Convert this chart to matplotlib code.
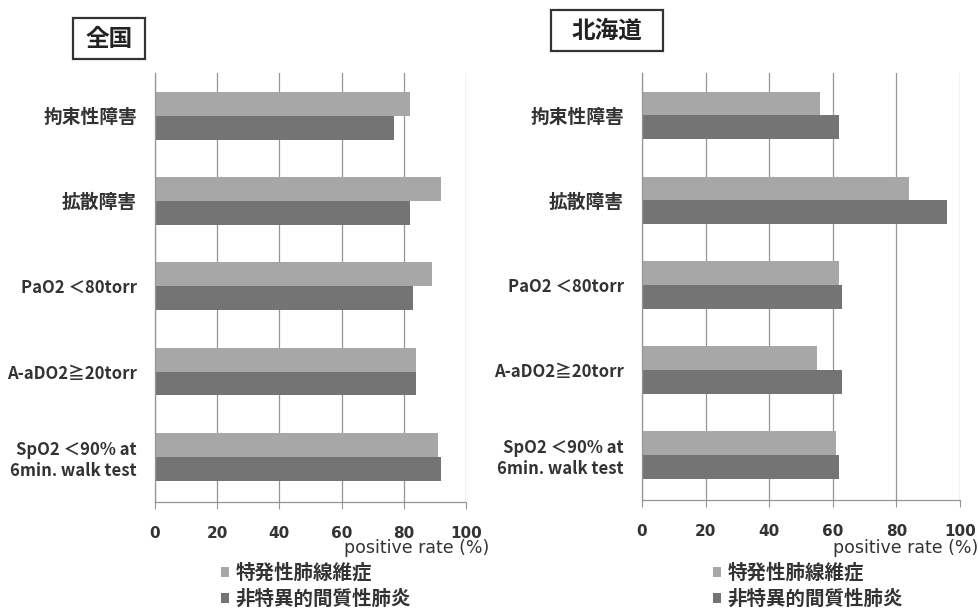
import numpy as np
import matplotlib
matplotlib.use("Agg")
import matplotlib.pyplot as plt
from matplotlib.patches import Rectangle

plt.rcParams['font.family'] = ['Noto Sans CJK JP', 'DejaVu Sans']

# categories (top to bottom)
categories = ["拘束性障害", "拡散障害", "PaO2 ＜80torr", "A-aDO2≧20torr", "SpO2 ＜90% at\n6min. walk test"]
series_names = ["特発性肺線維症", "非特異的間質性肺炎"]

# positive rate (%)
zenkoku_ipf = [82, 92, 89, 84, 91]
zenkoku_nsip = [77, 82, 83, 84, 92]
hokkaido_ipf = [56, 84, 62, 55, 61]
hokkaido_nsip = [62, 96, 63, 63, 62]

panel_titles = ["全国", "北海道"]
xticks = [0, 20, 40, 60, 80, 100]

light = "#a7a7a7"
dark = "#747474"
grid_col = "#959595"
txt_col = "#333333"

fig = plt.figure(figsize=(9.79, 6.11), dpi=100)
ax_l = fig.add_axes([0.1583, 0.1784, 0.3177, 0.7021])
ax_r = fig.add_axes([0.6558, 0.1817, 0.3248, 0.6989])


def draw_panel(ax, ipf, nsip):
    y = np.arange(len(categories))
    h = 0.28
    b1 = ax.barh(y - h / 2, ipf, height=h, color=light, edgecolor="none", zorder=2)
    b2 = ax.barh(y + h / 2, nsip, height=h, color=dark, edgecolor="none", zorder=2)
    ax.set_xlim(0, 100)
    ax.set_ylim(len(categories) - 0.47, -0.5)
    ax.set_xticks(xticks)
    ax.set_yticks(y)
    ax.set_yticklabels(categories, fontweight="bold", color=txt_col)
    # kanji-only labels a bit larger than the latin ones
    for lab in ax.get_yticklabels():
        lab.set_fontsize(12 if "O2" in lab.get_text() else 13.5)
    ax.tick_params(axis="y", length=0, pad=13)
    ax.tick_params(axis="x", length=5, width=0.8, color=grid_col, pad=12,
                   labelsize=11, labelcolor=txt_col)
    for lab in ax.get_xticklabels():
        lab.set_fontweight("bold")
        lab.set_family("DejaVu Sans")
    ax.grid(axis="x", color=grid_col, linewidth=0.9)
    ax.set_axisbelow(True)
    for s in ["top", "right"]:
        ax.spines[s].set_visible(False)
    for s in ["left", "bottom"]:
        ax.spines[s].set_color(grid_col)
        ax.spines[s].set_linewidth(0.9)
    return b1, b2


bars_l = draw_panel(ax_l, zenkoku_ipf, zenkoku_nsip)
bars_r = draw_panel(ax_r, hokkaido_ipf, hokkaido_nsip)

# axis titles
for xr in (489, 978):
    fig.text(xr / 979, 1 - 553 / 611, "positive rate (%)", ha="right", va="baseline",
             fontsize=12.5, color=txt_col, family="DejaVu Sans")

# boxed panel titles
for (x0, y0, x1, y1), t in zip([(73, 18, 145, 59), (551, 10, 663, 51)], panel_titles):
    fig.patches.append(Rectangle((x0 / 979, 1 - y1 / 611), (x1 - x0) / 979, (y1 - y0) / 611,
                                 transform=fig.transFigure, fc="white", ec="#333333", lw=1.6))
    fig.text((x0 + x1) / 2 / 979, 1 - (y0 + y1) / 2 / 611, t, ha="center", va="center",
             fontsize=17, fontweight="bold", color="#222222")

# legends under each panel
for ax, bars, lx in [(ax_l, bars_l, 221), (ax_r, bars_r, 713)]:
    leg = ax.legend(bars, series_names, loc="upper left",
                    bbox_to_anchor=(lx / 979, 1 - 563 / 611),
                    bbox_transform=fig.transFigure, frameon=False,
                    fontsize=14, handlelength=0.4, handleheight=0.4,
                    handletextpad=0.35, labelspacing=0.35, borderpad=0,
                    borderaxespad=0)
    for t in leg.get_texts():
        t.set_fontweight("bold")
        t.set_color(txt_col)

fig.savefig("out.png", dpi=100, facecolor="white")
